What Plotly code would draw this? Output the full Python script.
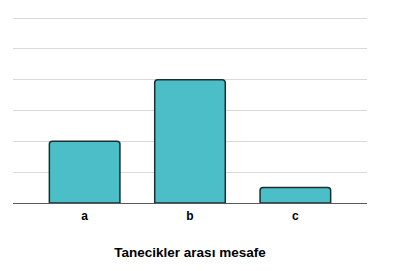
import plotly.graph_objects as go

categories = ["a", "b", "c"]
values = [2, 4, 0.5]
x_title = "Tanecikler arası mesafe"

fig = go.Figure(go.Bar(
    x=categories, y=values,
    width=0.67,
    marker=dict(color="#4BBEC7", line=dict(color="#1B2F30", width=1.5), cornerradius=3),
))
fig.update_layout(
    width=400, height=271,
    margin=dict(l=13, r=33, t=15, b=68),
    paper_bgcolor="white", plot_bgcolor="white",
    showlegend=False,
    font=dict(family="Liberation Sans, Arial, sans-serif", color="black"),
)
fig.update_xaxes(
    range=[-0.68, 2.68],
    tickfont=dict(size=12), ticklabelstandoff=2,
    title=dict(text="<b>" + x_title + "</b>", font=dict(size=13.5), standoff=25),
    tickprefix="<b>", ticksuffix="</b>",
    showline=True, linecolor="#595959", linewidth=1,
    ticks="", showgrid=False,
)
fig.update_yaxes(
    range=[0, 6.1], dtick=1,
    showgrid=True, gridcolor="#D9D9D9", gridwidth=1,
    showticklabels=False, zeroline=False, ticks="",
)
fig.write_html("out.html")
